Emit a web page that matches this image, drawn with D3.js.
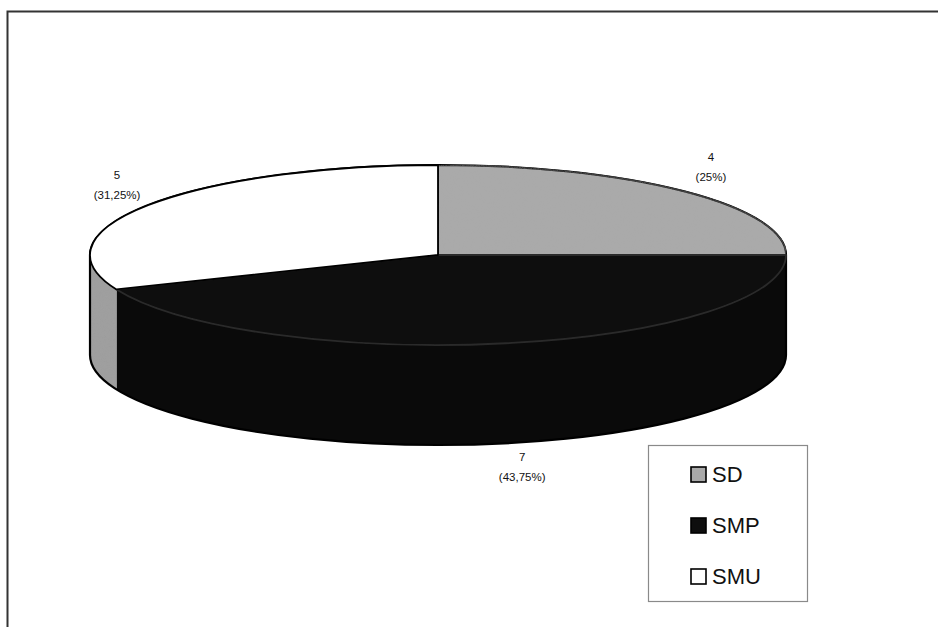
<!DOCTYPE html>
<html>
<head>
<meta charset="utf-8">
<script src="https://cdn.jsdelivr.net/npm/d3@7/dist/d3.min.js"></script>
<style>
  html, body { margin: 0; padding: 0; background: #fff; }
  svg { display: block; font-family: "Liberation Sans", Arial, sans-serif; }
</style>
</head>
<body>
<svg id="chart" width="938" height="627"></svg>
<script>
// Distribution by school level
const categories = ["SD", "SMP", "SMU"];
const values = [4, 7, 5];
const topColors = ["#a9a9a9", "#0e0e0e", "#ffffff"];
const sideColors = ["#8f8f8f", "#0a0a0a", "#9c9c9c"];
const grainy = [true, false, false];      // top faces with print grain
const grainySide = [true, false, true];   // side walls with print grain

const W = 938, H = 627;
const cx = 438, cy = 255, rx = 348, ry = 90, depth = 100;
const k = ry / rx;

const svg = d3.select("#chart");

// light print grain for the grey fills
const defs = svg.append("defs");
const grain = defs.append("filter").attr("id", "grain")
  .attr("x", 0).attr("y", 0).attr("width", 1).attr("height", 1);
grain.append("feTurbulence").attr("type", "fractalNoise")
  .attr("baseFrequency", "0.9 0.6").attr("numOctaves", 2).attr("seed", 3).attr("result", "noise");
grain.append("feColorMatrix").attr("in", "noise").attr("type", "matrix")
  .attr("values", "0 0 0 0 0.45  0 0 0 0 0.45  0 0 0 0 0.45  0 0 0 0.22 0").attr("result", "speck");
grain.append("feComposite").attr("in", "speck").attr("in2", "SourceGraphic").attr("operator", "in").attr("result", "speckIn");
grain.append("feMerge").call(m => {
  m.append("feMergeNode").attr("in", "SourceGraphic");
  m.append("feMergeNode").attr("in", "speckIn");
});

// chart frame (right/bottom edges run off the page)
svg.append("rect")
  .attr("x", 7.5).attr("y", 11.5)
  .attr("width", W + 20).attr("height", H + 20)
  .attr("fill", "none").attr("stroke", "#333").attr("stroke-width", 2);

const total = d3.sum(values);
const pie = d3.pie().sort(null).value(d => d)
  .startAngle(0).endAngle(2 * Math.PI);
const slices = pie(values);

const fmt = d3.format(".2~f");
const pctText = v => "(" + fmt(v / total * 100).replace(".", ",") + "%)";

// local coordinates are a circle of radius rx squashed vertically by k
const g = svg.append("g").attr("transform", `translate(${cx},${cy}) scale(1,${k})`);
const D = depth / k;
const toCanvas = a => a - Math.PI / 2;

// side walls (only the front half, pie angles pi/2 .. 3pi/2)
slices.forEach((s, i) => {
  const a0 = Math.max(s.startAngle, Math.PI / 2);
  const a1 = Math.min(s.endAngle, 3 * Math.PI / 2);
  if (a1 <= a0) return;
  const c0 = toCanvas(a0), c1 = toCanvas(a1);
  const p = d3.path();
  p.moveTo(rx * Math.cos(c0), rx * Math.sin(c0));
  p.arc(0, 0, rx, c0, c1, false);
  p.lineTo(rx * Math.cos(c1), rx * Math.sin(c1) + D);
  p.arc(0, D, rx, c1, c0, true);
  p.closePath();
  g.append("path").attr("d", p.toString())
    .attr("fill", sideColors[i]).attr("stroke", "none")
    .attr("filter", grainySide[i] ? "url(#grain)" : null);
});

// outer silhouette
{
  const p = d3.path();
  p.moveTo(-rx, 0);
  p.arc(0, 0, rx, Math.PI, 2 * Math.PI, false);
  p.lineTo(rx, D);
  p.arc(0, D, rx, 0, Math.PI, false);
  p.closePath();
  g.append("path").attr("d", p.toString())
    .attr("fill", "none").attr("stroke", "#000").attr("stroke-width", 2.2)
    .attr("vector-effect", "non-scaling-stroke");
}

// top faces
const arc = d3.arc().innerRadius(0).outerRadius(rx);
g.selectAll("path.top").data(slices).join("path")
  .attr("class", "top")
  .attr("d", arc)
  .attr("fill", (d, i) => topColors[i])
  .attr("filter", (d, i) => grainy[i] ? "url(#grain)" : null)
  .attr("stroke", (d, i) => i === 1 ? "#2a2a2a" : "#000")
  .attr("stroke-width", 1.8)
  .attr("stroke-linejoin", "round")
  .attr("vector-effect", "non-scaling-stroke");

// data labels: count and share, placed outward from each slice's mid-angle
const labelOffset = 38;
slices.forEach((s, i) => {
  const m = (s.startAngle + s.endAngle) / 2;
  const ux = Math.sin(m), uy = -Math.cos(m);
  let ex = cx + rx * ux, ey = cy + ry * uy;
  if (uy > 0) ey += depth;
  const lx = ex + ux * labelOffset * (uy > 0 ? 2.2 : 1);
  const ly = ey + uy * labelOffset * 0.75 - 6;
  const t = svg.append("text")
    .attr("x", lx).attr("y", ly)
    .attr("text-anchor", "middle")
    .attr("font-size", 11.5)
    .attr("fill", "#111");
  t.append("tspan").attr("x", lx).attr("dy", "-0.35em").text(values[i]);
  t.append("tspan").attr("x", lx).attr("dy", "1.7em").text(pctText(values[i]));
});

// legend
const lg = svg.append("g").attr("transform", "translate(648,445)");
lg.append("rect").attr("x", 0.5).attr("y", 0.5).attr("width", 159).attr("height", 156)
  .attr("fill", "#fff").attr("stroke", "#8a8a8a").attr("stroke-width", 1.2);
categories.forEach((c, i) => {
  const y = 36 + i * 51;
  lg.append("rect").attr("x", 43).attr("y", y - 14).attr("width", 15).attr("height", 15)
    .attr("fill", topColors[i]).attr("stroke", "#000").attr("stroke-width", 1.6);
  lg.append("text").attr("x", 64).attr("y", y + 1)
    .attr("font-size", 22).attr("fill", "#111").text(c);
});
</script>
</body>
</html>
